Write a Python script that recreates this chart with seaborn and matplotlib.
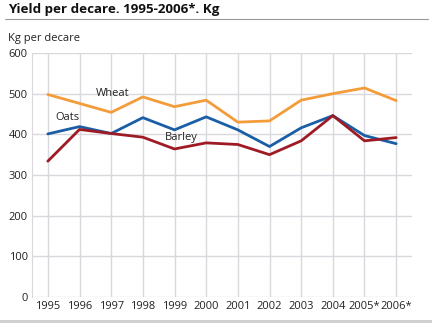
import matplotlib
matplotlib.use("Agg")
import matplotlib.pyplot as plt
import seaborn as sns
import pandas as pd
from matplotlib.lines import Line2D
from matplotlib.patches import Rectangle

years = ["1995", "1996", "1997", "1998", "1999", "2000", "2001", "2002", "2003", "2004", "2005*", "2006*"]
wheat = [498, 476, 454, 492, 468, 484, 430, 433, 484, 500, 514, 483]
oats = [401, 419, 402, 441, 411, 443, 411, 370, 416, 446, 397, 377]
barley = [334, 412, 402, 393, 364, 379, 375, 350, 384, 446, 384, 392]
yticks = [0, 100, 200, 300, 400, 500, 600]

sns.set_style("white")
plt.rcParams['font.family'] = ['Open Sans', 'DejaVu Sans']

df = pd.DataFrame({
    "x": list(range(len(years))) * 3,
    "value": wheat + oats + barley,
    "crop": ["Wheat"] * 12 + ["Oats"] * 12 + ["Barley"] * 12,
})
palette = {"Wheat": "#f39c3a", "Oats": "#1a5ea6", "Barley": "#9e1b25"}

fig = plt.figure(figsize=(4.32, 3.23), dpi=100)
ax = fig.add_axes([32 / 432, 1 - 297 / 323, 380 / 432, 244 / 323])
sns.lineplot(data=df, x="x", y="value", hue="crop", palette=palette, ax=ax,
             legend=False, linewidth=2, zorder=3)

ax.set_xlim(-0.5, 11.5)
ax.set_ylim(0, 600)
ax.set_xticks(range(len(years)))
ax.set_xticklabels(years)
ax.set_yticks(yticks)
ax.grid(True, color="#d8d8de", linewidth=1)
for s in ["top", "right", "bottom"]:
    ax.spines[s].set_visible(False)
ax.spines["left"].set_color("#d8d8de")
ax.tick_params(axis="both", length=0, labelsize=8, colors="#222222", pad=3)
ax.set_xlabel("")
ax.set_ylabel("")

ax.text(2.05, 500, "Wheat", fontsize=8, ha="center", va="center", color="#222222")
ax.text(0.62, 442, "Oats", fontsize=8, ha="center", va="center", color="#222222")
ax.text(4.2, 391, "Barley", fontsize=8, ha="center", va="center", color="#222222")

fig.text(8 / 432, 1 - 10 / 323, "Yield per decare. 1995-2006*. Kg", fontsize=9.6,
         fontweight="bold", ha="left", va="center", color="#111111")
fig.add_artist(Line2D([5 / 432, 428 / 432], [1 - 19 / 323, 1 - 19 / 323],
                      color="#999999", linewidth=0.8))
fig.text(8 / 432, 1 - 38 / 323, "Kg per decare", fontsize=8, ha="left", va="center",
         color="#222222")
fig.add_artist(Rectangle((0, 0), 1, 3 / 323, transform=fig.transFigure,
                         color="#d0d0d0", linewidth=0))

fig.savefig("out.png", dpi=100)
